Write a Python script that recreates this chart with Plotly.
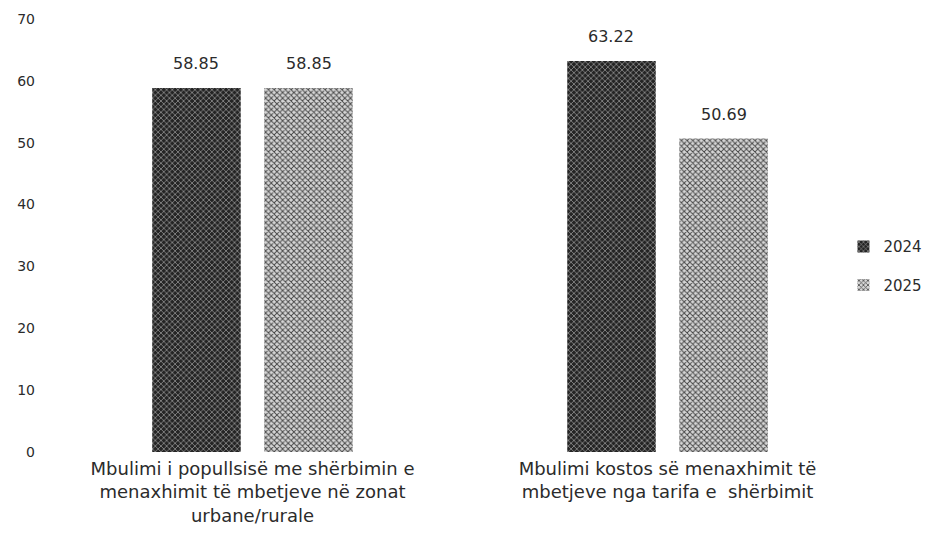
import plotly.graph_objects as go

categories = [
    "Mbulimi i popullsisë me shërbimin e<br>menaxhimit të mbetjeve në zonat<br>urbane/rurale",
    "Mbulimi kostos së menaxhimit të<br>mbetjeve nga tarifa e  shërbimit",
]
series_names = ["2024", "2025"]
values_2024 = [58.85, 63.22]
values_2025 = [58.85, 50.69]
y_ticks = [0, 10, 20, 30, 40, 50, 60, 70]

font_family = "'DejaVu Sans', sans-serif"
text_color = "#2b2b2b"

W, H = 947, 547
ML, MR, MT, MB = 37, 80, 11, 103
BARGAP, BARGROUPGAP = 0.46, 0.21

fig = go.Figure()
fig.add_trace(go.Bar(
    name=series_names[0], x=categories, y=values_2024, legendgroup="a",
    marker=dict(color="#333333", line=dict(width=0),
                pattern=dict(shape="x", fgcolor="#a8a8a8", bgcolor="#242424",
                             size=4, solidity=0.3, fillmode="replace")),
))
fig.add_trace(go.Bar(
    name=series_names[1], x=categories, y=values_2025, legendgroup="b",
    marker=dict(color="#c0c0c0", line=dict(width=0),
                pattern=dict(shape="x", fgcolor="#464646", bgcolor="#d6d6d6",
                             size=4, solidity=0.42, fillmode="replace")),
))

# value labels, placed above each bar
plot_w = W - ML - MR
slot = plot_w / len(categories) * (1 - BARGAP) / 2
for k, vals in enumerate([values_2024, values_2025]):
    off = (k - 0.5) * slot
    for cat, v in zip(categories, vals):
        fig.add_annotation(x=cat, y=v, xref="x", yref="y", text=f"{v:.2f}",
                           showarrow=False, xshift=off, yshift=24,
                           yanchor="middle",
                           font=dict(size=16, color=text_color, family=font_family))

fig.update_layout(
    width=W, height=H,
    margin=dict(l=ML, r=MR, t=MT, b=MB),
    paper_bgcolor="white", plot_bgcolor="white",
    barmode="group", bargap=BARGAP, bargroupgap=BARGROUPGAP,
    font=dict(family=font_family, size=15, color=text_color),
    showlegend=True,
    legend=dict(x=0.962, y=0.43, xanchor="left", yanchor="middle",
                font=dict(size=15, color=text_color, family=font_family),
                itemwidth=30, tracegroupgap=16, bgcolor="rgba(0,0,0,0)"),
    xaxis=dict(showline=False, showgrid=False, ticks="", automargin=False,
               ticklabelstandoff=4,
               tickfont=dict(size=18, color=text_color, family=font_family)),
    yaxis=dict(range=[0, 70], tickvals=y_ticks, showgrid=False, showline=False,
               zeroline=False, ticks="", ticklabelstandoff=9, automargin=False,
               tickfont=dict(size=14, color=text_color, family=font_family)),
)

fig.write_html("out.html")
